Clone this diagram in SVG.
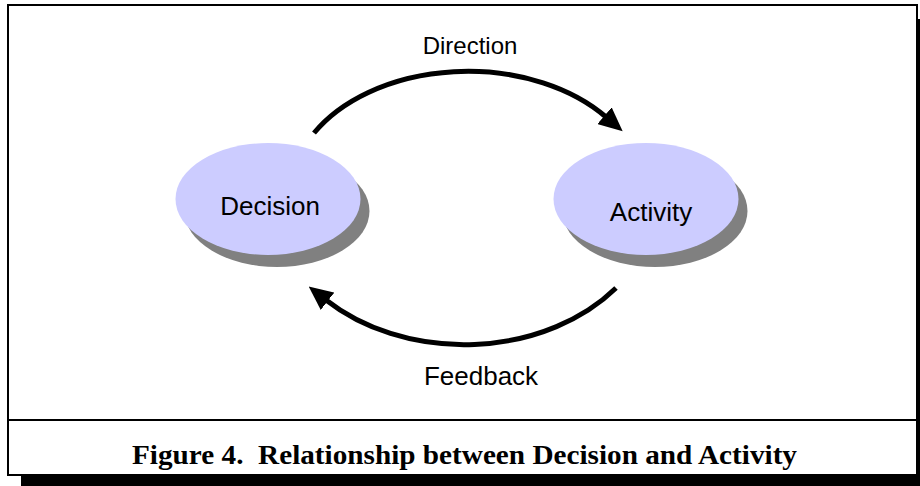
<svg xmlns="http://www.w3.org/2000/svg" width="920" height="486" viewBox="0 0 920 486">
  <style>
    .frame { fill: #ffffff; stroke: #000000; stroke-width: 2; }
    .node { fill: #ccccff; }
    .shade { fill: #808080; }
    .label { font-family: "Liberation Sans", Arial, sans-serif; font-size: 26px; fill: #000000; text-anchor: middle; }
    .edge { fill: none; stroke: #000000; stroke-width: 5; }
    .caption { font-family: "Liberation Serif", "Times New Roman", serif; font-weight: bold; font-size: 27px; fill: #000000; text-anchor: middle; }
  </style>
  <defs>
    <marker id="arrow" markerUnits="userSpaceOnUse" markerWidth="24" markerHeight="22" refX="2" refY="11" orient="auto">
      <path d="M0,0 L24,11 L0,22 Z" fill="#000000"/>
    </marker>
  </defs>

  <!-- page frame with drop shadow -->
  <rect x="21" y="19" width="910" height="480" fill="#000000"/>
  <rect class="frame" x="8" y="5" width="909" height="470"/>
  <line x1="8" y1="420" x2="917" y2="420" stroke="#000000" stroke-width="2"/>

  <g id="node-decision">
    <ellipse class="shade" cx="277" cy="211" rx="92.5" ry="56"/>
    <ellipse class="node" cx="268" cy="199" rx="92.5" ry="56"/>
    <text class="label" x="270" y="215">Decision</text>
  </g>

  <g id="node-activity">
    <ellipse class="shade" cx="655" cy="211" rx="92.5" ry="56"/>
    <ellipse class="node" cx="646" cy="199" rx="92.5" ry="56"/>
    <text class="label" x="651" y="221">Activity</text>
  </g>

  <g id="connectors">
    <path class="edge" d="M314,133 A177,122 0 0 1 606,117" marker-end="url(#arrow)"/>
    <path class="edge" d="M616,288 A194,150 0 0 1 326,300" marker-end="url(#arrow)"/>
    <text class="label" x="470" y="54" style="font-size:24px">Direction</text>
    <text class="label" x="481" y="385">Feedback</text>
  </g>

  <text class="caption" x="464.5" y="464" textLength="665" lengthAdjust="spacingAndGlyphs" xml:space="preserve">Figure 4.  Relationship between Decision and Activity</text>
</svg>
